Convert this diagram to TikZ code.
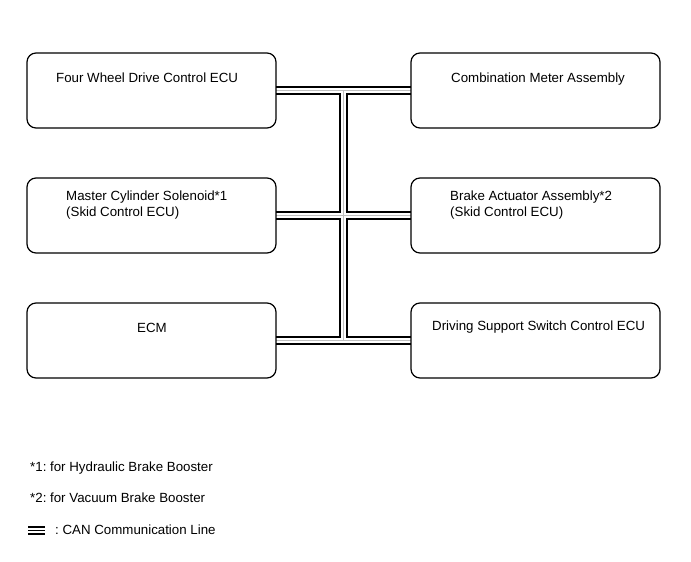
\documentclass[tikz,border=0pt]{standalone}
\usepackage{fontspec}
\setmainfont{Liberation Sans}
\usepackage{tikz}
\usetikzlibrary{positioning,calc,backgrounds}

\frenchspacing
\newcommand{\ecufont}{\fontsize{13.3}{15.4}\selectfont}

\begin{document}
\begin{tikzpicture}[x=1pt,y=-1pt,
ecu/.style={draw,line width=1.2pt,rounded corners=9pt,minimum width=249pt,minimum height=75pt,inner sep=0pt,outer sep=0pt},
txt/.style={anchor=base west,inner sep=0pt,align=left,font=\ecufont},
busouter/.style={line width=8.6pt,black},
businner/.style={line width=5.8pt,white},
buscore/.style={line width=0.7pt,black!25}
]
\useasboundingbox (0,0) rectangle (691,562);
% control units
\node[ecu,anchor=north west] (fwd) at (27,53) {};
\node[ecu,right=135pt of fwd] (meter) {};
\node[ecu,below=50pt of fwd] (mcs) {};
\node[ecu,right=135pt of mcs] (brake) {};
\node[ecu,below=50pt of mcs] (ecm) {};
\node[ecu,right=135pt of ecm] (dss) {};
% texts (two-line ones sit on their last baseline)
\node[txt] (fwdtxt) at ($(fwd.north west)+(29,29)$) {Four Wheel Drive Control ECU};
\node[txt] (metertxt) at ($(meter.north west)+(40,29)$) {Combination Meter Assembly};
\node[txt] (mcstxt) at ($(mcs.north west)+(39,38)$) {Master Cylinder Solenoid*1\\(Skid Control ECU)};
\node[txt] (braketxt) at ($(brake.north west)+(39,38)$) {Brake Actuator Assembly*2\\(Skid Control ECU)};
\node[txt] (ecmtxt) at ($(ecm.north west)+(110,29)$) {ECM};
\node[txt] (dsstxt) at ($(dss.north west)+(21,27)$) {Driving Support Switch Control ECU};
% CAN bus
\coordinate (bustop) at ($(fwd.east)!0.5!(meter.west)$);
\coordinate (busbot) at ($(ecm.east)!0.5!(dss.west)$);
\begin{scope}[on background layer]
\foreach \s in {busouter,businner,buscore}
  \draw[\s] (fwd.east) -- (meter.west) (mcs.east) -- (brake.west)
    (ecm.east) -- (dss.west) (bustop) -- (busbot);
\end{scope}
% legend
\node[txt] (note1) at (30,471) {*1: for Hydraulic Brake Booster};
\node[txt] (note2) at (30,502) {*2: for Vacuum Brake Booster};
\node[txt] (canlbl) at (55,534) {: CAN Communication Line};
\foreach \y in {527,530.5,534}
  \draw[line width=1.3pt] (28,\y) -- (45,\y);
\end{tikzpicture}
\end{document}
